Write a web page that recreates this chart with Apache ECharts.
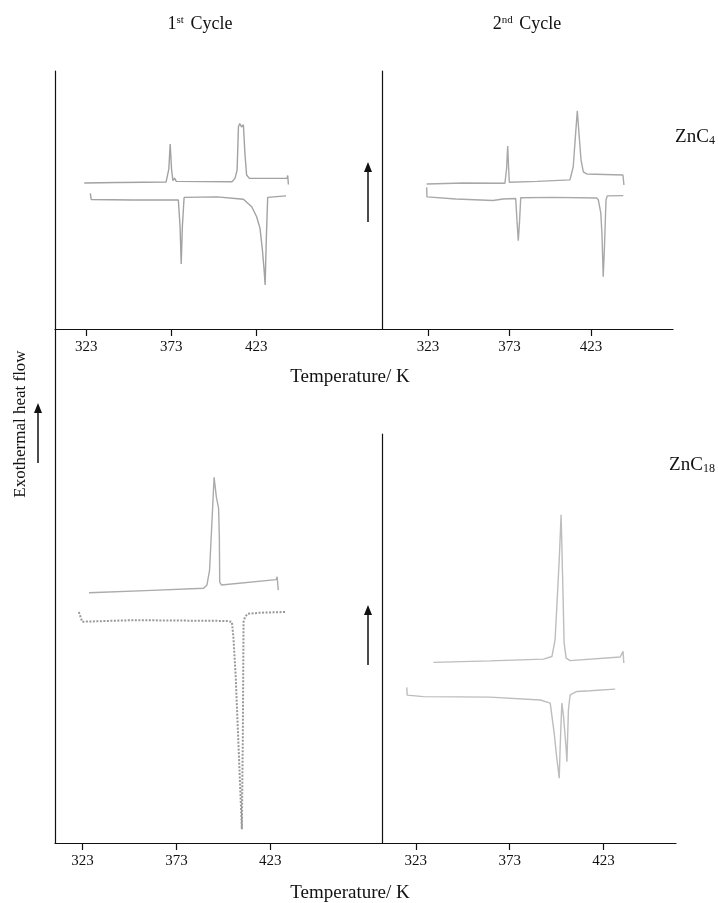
<!DOCTYPE html>
<html>
<head>
<meta charset="utf-8">
<title>DSC ZnC4 / ZnC18</title>
<script src="https://cdn.jsdelivr.net/npm/echarts@6/dist/echarts.min.js"></script>
<style>
  html, body { margin: 0; padding: 0; background: #fff; }
  #dsc { width: 718px; height: 903px; }
</style>
</head>
<body>
<div id="dsc"></div>
<script>
// tick labels (K)
const tempTicks = [323, 373, 423];

// ZnC4, 1st cycle
const c4c1CoolT  = [321.8, 341.2, 342.0, 343.0, 370.0, 371.6, 372.4, 373.2, 374.0, 375.0, 376.0, 408.9, 410.6, 411.8, 412.6, 413.4, 414.4, 415.5, 416.4, 417.4, 419.0, 441.2, 441.6, 442.0];
const c4c1CoolHF = [56.6, 56.8, 57.5, 56.8, 57.0, 62.0, 71.7, 62.0, 57.5, 58.5, 57.2, 57.1, 58.5, 61.6, 78.5, 79.6, 78.3, 79.2, 68.0, 59.7, 58.4, 58.4, 59.5, 56.0];
const c4c1HeatT  = [325.4, 325.9, 350.0, 377.2, 378.2, 378.9, 379.6, 380.6, 400.0, 415.5, 420.4, 423.3, 425.3, 426.7, 427.7, 428.3, 429.0, 429.8, 430.3, 440.6];
const c4c1HeatHF = [52.6, 50.2, 50.0, 50.0, 40.0, 25.2, 40.0, 51.0, 51.2, 50.3, 47.4, 43.5, 39.0, 30.6, 22.9, 17.1, 35.0, 51.0, 51.6, 51.6];

// ZnC4, 2nd cycle
const c4c2CoolT  = [322.2, 345.0, 370.2, 371.2, 371.9, 372.5, 372.9, 390.0, 410.1, 412.1, 413.6, 414.6, 415.6, 416.9, 418.3, 420.4, 442.6, 442.9, 443.2];
const c4c2CoolHF = [56.2, 56.6, 56.5, 62.0, 70.9, 62.0, 56.9, 57.2, 57.8, 62.9, 76.0, 84.6, 76.0, 65.5, 60.9, 60.1, 59.7, 60.3, 55.8];
const c4c2HeatT  = [322.2, 322.4, 340.0, 362.9, 369.0, 376.8, 377.6, 378.4, 379.2, 379.9, 400.0, 426.5, 427.5, 429.0, 429.7, 430.5, 431.2, 432.2, 433.0, 442.8];
const c4c2HeatHF = [54.9, 51.2, 50.4, 49.8, 50.4, 50.6, 42.0, 34.2, 42.0, 50.9, 51.0, 50.8, 50.0, 45.0, 37.2, 20.3, 30.6, 50.0, 51.6, 51.7];

// ZnC18, 1st cycle
const c18c1CoolT  = [326.4, 360.0, 387.5, 389.3, 390.7, 392.0, 393.1, 394.3, 395.5, 395.9, 396.1, 397.0, 426.2, 426.7, 427.3];
const c18c1CoolHF = [97.4, 98.3, 99.1, 100.4, 106.2, 125.7, 142.3, 134.7, 130.2, 119.0, 101.5, 100.4, 102.5, 103.6, 98.4];
const c18c1HeatT  = [321.0, 322.8, 350.0, 400.0, 402.6, 403.4, 404.6, 406.0, 407.9, 408.4, 408.8, 409.6, 411.1, 417.7, 431.0];
const c18c1HeatHF = [89.9, 86.1, 86.7, 86.4, 86.0, 80.0, 65.0, 40.0, 5.4, 40.0, 86.0, 88.0, 89.2, 89.6, 89.9];

// ZnC18, 2nd cycle
const c18c2CoolT  = [332.4, 362.6, 391.0, 395.5, 397.2, 398.5, 399.4, 400.4, 401.4, 402.0, 403.1, 405.2, 431.9, 433.4, 433.8];
const c18c2CoolHF = [70.2, 70.8, 71.5, 72.5, 79.0, 97.3, 110.1, 127.6, 97.3, 77.8, 71.9, 70.9, 72.3, 74.5, 70.0];
const c18c2HeatT  = [318.2, 318.4, 327.1, 362.6, 389.3, 394.6, 396.7, 398.2, 399.4, 399.9, 400.8, 401.7, 403.0, 403.5, 404.3, 405.2, 408.8, 415.9, 429.2];
const c18c2HeatHF = [60.5, 57.5, 56.9, 56.7, 55.6, 54.4, 42.8, 32.3, 25.2, 37.5, 54.4, 49.1, 37.5, 31.6, 51.8, 57.6, 58.9, 59.2, 59.8];

const serif = '"Liberation Serif", "Times New Roman", serif';
const ink = '#111';

function pairs(t, hf) {
  return t.map((v, i) => [v, hf[i]]);
}

function xAxisOf(gridIndex, min, max) {
  return {
    type: 'value',
    gridIndex: gridIndex,
    min: min,
    max: max,
    splitLine: { show: false },
    axisLine: { show: true, onZero: false, lineStyle: { color: ink, width: 1.2 } },
    axisTick: { show: true, inside: false, length: 7, customValues: tempTicks, lineStyle: { color: ink, width: 1.2 } },
    axisLabel: { customValues: tempTicks, margin: 11, color: ink, fontSize: 15, fontFamily: serif }
  };
}

function yAxisOf(gridIndex, max) {
  return {
    type: 'value',
    gridIndex: gridIndex,
    min: 0,
    max: max,
    splitLine: { show: false },
    axisLine: { show: true, lineStyle: { color: ink, width: 1.2 } },
    axisTick: { show: false },
    axisLabel: { show: false }
  };
}

function curve(idx, data, color, type, width) {
  return {
    type: 'line',
    xAxisIndex: idx,
    yAxisIndex: idx,
    data: data,
    symbol: 'none',
    smooth: false,
    silent: true,
    lineStyle: { color: color, width: width || 1.4, type: type || 'solid' }
  };
}

// little up-arrow: tail (x, y1), tip (x, y0)
function arrow(x, y0, y1) {
  return {
    type: 'group',
    children: [
      { type: 'line', shape: { x1: x, y1: y1, x2: x, y2: y0 + 8 }, style: { stroke: ink, lineWidth: 1.5 } },
      { type: 'polygon', shape: { points: [[x, y0], [x - 4, y0 + 10], [x + 4, y0 + 10]] }, style: { fill: ink } }
    ]
  };
}

function label(x, y, text, size, extra) {
  return Object.assign({
    type: 'text',
    x: x,
    y: y,
    style: {
      text: text,
      fill: ink,
      fontSize: size,
      fontFamily: serif,
      align: 'center',
      verticalAlign: 'middle',
      rich: {
        sup: { fontSize: Math.round(size * 0.6), fontFamily: serif, fill: ink, verticalAlign: 'top', padding: [0, 2, 8, 0] },
        sub: { fontSize: Math.round(size * 0.65), fontFamily: serif, fill: ink, verticalAlign: 'bottom', padding: [8, 0, 0, 0] }
      }
    }
  }, extra || {});
}

const myChart = echarts.init(document.getElementById('dsc'), null, { renderer: 'canvas' });

const option = {
  animation: false,
  backgroundColor: '#fff',
  grid: [
    { left: 55, right: 336, top: 71, bottom: 574, outerBoundsMode: 'none' },  // ZnC4 1st
    { left: 382, right: 45, top: 71, bottom: 574, outerBoundsMode: 'none' },  // ZnC4 2nd
    { left: 55, right: 336, top: 329, bottom: 60, outerBoundsMode: 'none' },  // ZnC18 1st
    { left: 382, right: 42, top: 434, bottom: 60, outerBoundsMode: 'none' }   // ZnC18 2nd
  ],
  xAxis: [
    xAxisOf(0, 304.6, 497.1),
    xAxisOf(1, 294.8, 473.3),
    xAxisOf(2, 308.3, 482.6),
    xAxisOf(3, 305.0, 461.6)
  ],
  yAxis: [
    yAxisOf(0, 100),
    yAxisOf(1, 100),
    yAxisOf(2, 200),
    yAxisOf(3, 159)
  ],
  series: [
    curve(0, pairs(c4c1CoolT, c4c1CoolHF), '#a2a2a2'),
    curve(0, pairs(c4c1HeatT, c4c1HeatHF), '#a2a2a2'),
    curve(1, pairs(c4c2CoolT, c4c2CoolHF), '#a8a8a8'),
    curve(1, pairs(c4c2HeatT, c4c2HeatHF), '#a8a8a8'),
    curve(2, pairs(c18c1CoolT, c18c1CoolHF), '#ababab'),
    curve(2, pairs(c18c1HeatT, c18c1HeatHF), '#999999', [2, 1.5], 2),
    curve(3, pairs(c18c2CoolT, c18c2CoolHF), '#bdbdbd'),
    curve(3, pairs(c18c2HeatT, c18c2HeatHF), '#bdbdbd')
  ],
  graphic: [
    label(200, 24, '1{sup|st} Cycle', 18),
    label(527, 24, '2{sup|nd} Cycle', 18),
    label(695, 137, 'ZnC{sub|4}', 19),
    label(692, 465, 'ZnC{sub|18}', 19),
    label(350, 377, 'Temperature/ K', 19),
    label(350, 893, 'Temperature/ K', 19),
    label(21, 424, 'Exothermal heat flow', 17, { rotation: Math.PI / 2 }),
    arrow(38, 403, 463),
    arrow(368, 162, 222),
    arrow(368, 605, 665)
  ]
};

myChart.setOption(option);
</script>
</body>
</html>
